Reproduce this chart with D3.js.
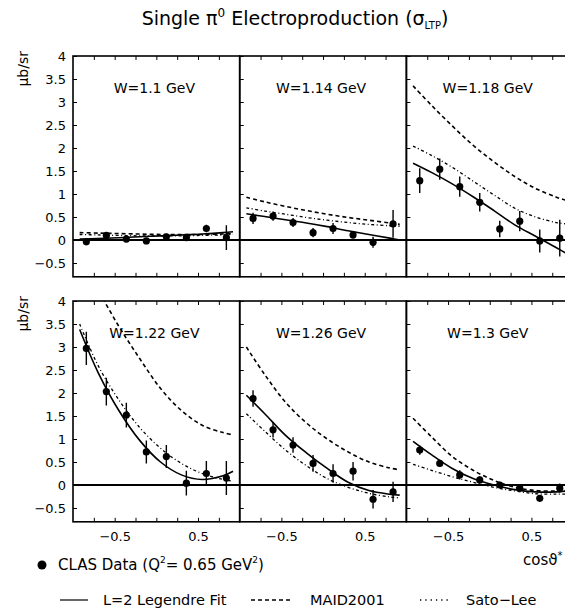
<!DOCTYPE html>
<html>
<head>
<meta charset="utf-8">
<script src="https://cdn.jsdelivr.net/npm/d3@7"></script>
<style>
body { margin: 0; background: #fff; }
text { font-family: "DejaVu Sans", sans-serif; fill: #000; }
</style>
</head>
<body>
<div id="chart"></div>
<script>
// values (top row then bottom row)
var panelLabels = ["W=1.1 GeV", "W=1.14 GeV", "W=1.18 GeV", "W=1.22 GeV", "W=1.26 GeV", "W=1.3 GeV"];
var cosTheta = [-0.84, -0.6, -0.36, -0.12, 0.12, 0.36, 0.6, 0.84];

var clasValues = [
    [-0.04, 0.10, 0.02, -0.02, 0.07, 0.05, 0.25, 0.05],
    [0.47, 0.52, 0.38, 0.16, 0.25, 0.11, -0.05, 0.35],
    [1.29, 1.54, 1.16, 0.82, 0.24, 0.41, -0.02, 0.04],
    [2.97, 2.03, 1.52, 0.72, 0.62, 0.04, 0.25, 0.15],
    [1.88, 1.20, 0.87, 0.47, 0.25, 0.30, -0.31, -0.15],
    [0.76, 0.47, 0.22, 0.11, 0.00, -0.07, -0.29, -0.07]
];
var clasErrors = [
    [0.04, 0.05, 0.03, 0.03, 0.04, 0.06, 0.08, 0.27],
    [0.12, 0.10, 0.10, 0.10, 0.12, 0.08, 0.12, 0.30],
    [0.27, 0.23, 0.22, 0.20, 0.18, 0.22, 0.25, 0.40],
    [0.36, 0.30, 0.27, 0.25, 0.25, 0.27, 0.27, 0.37],
    [0.18, 0.17, 0.17, 0.18, 0.20, 0.20, 0.20, 0.22],
    [0.10, 0.08, 0.10, 0.08, 0.06, 0.07, 0.07, 0.10]
];

// model curves sampled at these cos values
var curveCos = [-0.92, -0.7, -0.45, -0.2, 0.05, 0.3, 0.55, 0.8, 0.92];
var fitValues = [
    [0.02, 0.03, 0.05, 0.07, 0.09, 0.11, 0.13, 0.16, 0.18],
    [0.57, 0.51, 0.44, 0.37, 0.29, 0.20, 0.12, 0.04, 0.00],
    [1.67, 1.47, 1.22, 0.94, 0.64, 0.33, 0.08, -0.17, -0.29],
    [3.38, 2.45, 1.62, 0.97, 0.50, 0.22, 0.12, 0.20, 0.30],
    [1.95, 1.55, 1.08, 0.70, 0.36, 0.06, -0.12, -0.20, -0.22],
    [0.95, 0.66, 0.36, 0.14, 0.00, -0.10, -0.15, -0.15, -0.13]
];
var maidValues = [
    [0.16, 0.15, 0.14, 0.13, 0.12, 0.12, 0.12, 0.13, 0.14],
    [0.93, 0.83, 0.73, 0.64, 0.56, 0.49, 0.43, 0.37, 0.34],
    [3.35, 2.93, 2.48, 2.06, 1.70, 1.38, 1.12, 0.93, 0.86],
    [5.00, 4.25, 3.45, 2.75, 2.10, 1.62, 1.30, 1.14, 1.09],
    [3.00, 2.40, 1.80, 1.35, 1.00, 0.72, 0.50, 0.37, 0.33],
    [1.45, 1.05, 0.62, 0.32, 0.10, -0.05, -0.12, -0.13, -0.12]
];
var satoValues = [
    [0.12, 0.11, 0.10, 0.09, 0.09, 0.09, 0.10, 0.11, 0.12],
    [0.70, 0.63, 0.56, 0.49, 0.43, 0.38, 0.34, 0.31, 0.30],
    [2.04, 1.84, 1.58, 1.28, 0.98, 0.69, 0.50, 0.38, 0.35],
    [3.50, 2.60, 1.85, 1.25, 0.80, 0.47, 0.25, 0.12, 0.08],
    [1.55, 1.17, 0.76, 0.42, 0.14, -0.05, -0.18, -0.26, -0.28],
    [0.45, 0.32, 0.18, 0.06, -0.05, -0.13, -0.19, -0.20, -0.20]
];

var yTicks = [-0.5, 0, 0.5, 1, 1.5, 2, 2.5, 3, 3.5, 4];
var xTickLabels = [-0.5, 0.5];
var xMinorTicks = [-0.75, -0.5, -0.25, 0, 0.25, 0.5, 0.75];

var width = 565, height = 612;
var left = 73, top0 = 56, pw = 166.7, ph = 220.8, rowStep = 245;

var svg = d3.select("#chart").append("svg")
    .attr("width", width)
    .attr("height", height);

var x = d3.scaleLinear().domain([-1, 1]).range([0, pw]);
var y = d3.scaleLinear().domain([-0.8, 4]).range([ph, 0]);

var line = d3.line()
    .x(function (d) { return x(d[0]); })
    .y(function (d) { return y(d[1]); })
    .curve(d3.curveCatmullRom);

var styles = {
    fit: { dash: null, w: 1.6 },
    maid: { dash: "4,3", w: 1.6 },
    sato: { dash: "3,2.5,1,2.5", w: 1.3 }
};

// 4, 3.5, ... 0, -0.5 (no trailing .0, real minus sign)
function tickText(d) {
    var s = (d == Math.round(d)) ? String(d) : d.toFixed(1);
    return s.replace("-", "\u2212");
}

function drawPanel(i) {
    var col = i % 3, row = Math.floor(i / 3);
    var g = svg.append("g")
        .attr("transform", "translate(" + (left + col * pw) + "," + (top0 + row * rowStep) + ")");

    svg.append("clipPath").attr("id", "clip" + i)
        .append("rect").attr("width", pw).attr("height", ph);

    var inner = g.append("g").attr("clip-path", "url(#clip" + i + ")");

    // zero line
    inner.append("line")
        .attr("x1", 0).attr("x2", pw)
        .attr("y1", y(0)).attr("y2", y(0))
        .attr("stroke", "#000").attr("stroke-width", 2);

    var models = [["maid", maidValues[i]], ["sato", satoValues[i]], ["fit", fitValues[i]]];
    models.forEach(function (m) {
        var pts = curveCos.map(function (c, k) { return [c, m[1][k]]; });
        inner.append("path")
            .attr("d", line(pts))
            .attr("fill", "none")
            .attr("stroke", "#000")
            .attr("stroke-width", styles[m[0]].w)
            .attr("stroke-dasharray", styles[m[0]].dash);
    });

    var pts = cosTheta.map(function (c, k) {
        return { c: c, v: clasValues[i][k], e: clasErrors[i][k] };
    });
    inner.selectAll(".err").data(pts).enter().append("line")
        .attr("class", "err")
        .attr("x1", function (d) { return x(d.c); })
        .attr("x2", function (d) { return x(d.c); })
        .attr("y1", function (d) { return y(d.v - d.e); })
        .attr("y2", function (d) { return y(d.v + d.e); })
        .attr("stroke", "#000").attr("stroke-width", 1.4);
    inner.selectAll(".pt").data(pts).enter().append("circle")
        .attr("class", "pt")
        .attr("cx", function (d) { return x(d.c); })
        .attr("cy", function (d) { return y(d.v); })
        .attr("r", 3.6)
        .attr("fill", "#000");

    // inward ticks
    var yAxis = d3.axisLeft(y).tickValues(yTicks).tickSize(-4).tickPadding(7)
        .tickFormat(col > 0 ? "" : tickText);
    g.append("g").call(yAxis)
        .call(function (a) { a.select(".domain").remove(); })
        .selectAll("text").attr("font-size", 13).attr("font-family", "DejaVu Sans");

    g.append("g").attr("transform", "translate(0," + ph + ")")
        .call(d3.axisBottom(x).tickValues(xMinorTicks).tickSize(-4).tickFormat(""))
        .call(function (a) { a.select(".domain").remove(); });
    g.append("g")
        .call(d3.axisTop(x).tickValues(xMinorTicks).tickSize(-4).tickFormat(""))
        .call(function (a) { a.select(".domain").remove(); });

    if (row == 1) {
        g.append("g").attr("transform", "translate(0," + ph + ")")
            .call(d3.axisBottom(x).tickValues(xTickLabels).tickSize(0).tickPadding(10)
                .tickFormat(tickText))
            .call(function (a) { a.select(".domain").remove(); })
            .selectAll("text").attr("font-size", 13).attr("font-family", "DejaVu Sans");
    }

    g.append("rect")
        .attr("width", pw).attr("height", ph)
        .attr("fill", "none").attr("stroke", "#000").attr("stroke-width", 1.6);

    g.append("text")
        .attr("x", pw / 2 - 2).attr("y", 37)
        .attr("text-anchor", "middle")
        .attr("font-size", 14)
        .text(panelLabels[i]);
}

for (var i = 0; i < panelLabels.length; i++) drawPanel(i);

// title
var title = svg.append("text").attr("x", 295).attr("y", 25)
    .attr("text-anchor", "middle").attr("font-size", 19);
title.append("tspan").text("Single \u03c0");
title.append("tspan").attr("font-size", 12).attr("dy", -8).text("0");
title.append("tspan").attr("dy", 8).text(" Electroproduction (\u03c3");
title.append("tspan").attr("font-size", 10).attr("dy", 4).text("LTP");
title.append("tspan").attr("dy", -4).text(")");

// y axis labels
[0, 1].forEach(function (r) {
    svg.append("text")
        .attr("transform", "translate(28," + (top0 + r * rowStep - 5) + ") rotate(-90)")
        .attr("text-anchor", "end")
        .attr("font-size", 14)
        .text("\u03bcb/sr");
});

// x axis label
var xl = svg.append("text").attr("x", 523).attr("y", 565).attr("font-size", 15);
xl.append("tspan").text("cos\u03d1");
xl.append("tspan").attr("font-size", 10).attr("dy", -6).text("*");

// legend
svg.append("circle").attr("cx", 42).attr("cy", 565).attr("r", 4.5).attr("fill", "#000");
var l1 = svg.append("text").attr("x", 58).attr("y", 570).attr("font-size", 15);
l1.append("tspan").text("CLAS Data (Q");
l1.append("tspan").attr("font-size", 9).attr("dy", -7).text("2");
l1.append("tspan").attr("dy", 7).text("= 0.65 GeV");
l1.append("tspan").attr("font-size", 9).attr("dy", -7).text("2");
l1.append("tspan").attr("dy", 7).text(")");

var legendItems = [
    { key: "fit", label: "L=2 Legendre Fit", x0: 60, x1: 88, tx: 103 },
    { key: "maid", label: "MAID2001", x0: 251, x1: 291, tx: 310 },
    { key: "sato", label: "Sato\u2212Lee", x0: 420, x1: 449, tx: 466 }
];
legendItems.forEach(function (d) {
    svg.append("line")
        .attr("x1", d.x0).attr("x2", d.x1).attr("y1", 600).attr("y2", 600)
        .attr("stroke", "#000")
        .attr("stroke-width", d.key == "fit" ? 1.2 : 1.3)
        .attr("stroke-dasharray", d.key == "sato" ? "1.3,4" : styles[d.key].dash);
    svg.append("text").attr("x", d.tx).attr("y", 605).attr("font-size", 14.5).text(d.label);
});
</script>
</body>
</html>
